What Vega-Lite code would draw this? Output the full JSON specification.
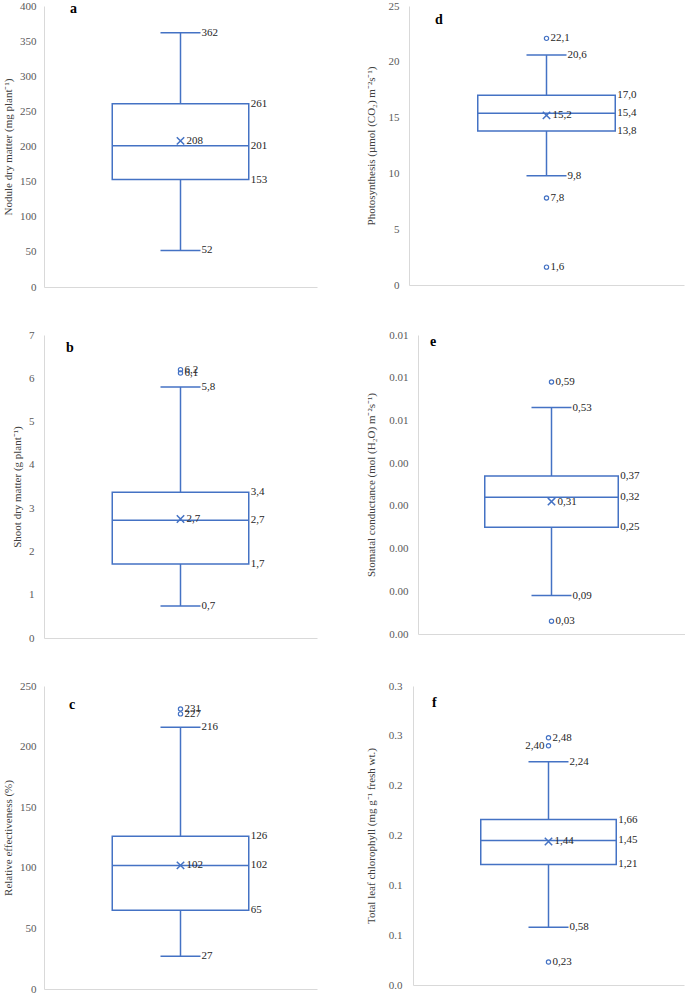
{
"$schema":"https://vega.github.io/schema/vega-lite/v6.json",
"padding":{"left":2,"top":0,"right":0,"bottom":0},
"background":"white",
"datasets":{"stats":[
{"panel":"a","stat":"min","value":52,"label":"52"},
{"panel":"a","stat":"q1","value":153,"label":"153"},
{"panel":"a","stat":"median","value":201,"label":"201"},
{"panel":"a","stat":"q3","value":261,"label":"261"},
{"panel":"a","stat":"max","value":362,"label":"362"},
{"panel":"a","stat":"mean","value":208,"label":"208"},
{"panel":"d","stat":"min","value":9.8,"label":"9,8"},
{"panel":"d","stat":"q1","value":13.8,"label":"13,8"},
{"panel":"d","stat":"median","value":15.4,"label":"15,4"},
{"panel":"d","stat":"q3","value":17.0,"label":"17,0"},
{"panel":"d","stat":"max","value":20.6,"label":"20,6"},
{"panel":"d","stat":"mean","value":15.2,"label":"15,2"},
{"panel":"d","stat":"outlier","value":22.1,"label":"22,1"},
{"panel":"d","stat":"outlier","value":7.8,"label":"7,8"},
{"panel":"d","stat":"outlier","value":1.6,"label":"1,6"},
{"panel":"b","stat":"min","value":0.74,"label":"0,7"},
{"panel":"b","stat":"q1","value":1.71,"label":"1,7"},
{"panel":"b","stat":"median","value":2.72,"label":"2,7"},
{"panel":"b","stat":"q3","value":3.37,"label":"3,4"},
{"panel":"b","stat":"max","value":5.8,"label":"5,8"},
{"panel":"b","stat":"mean","value":2.75,"label":"2,7"},
{"panel":"b","stat":"outlier","value":6.2,"label":"6,2"},
{"panel":"b","stat":"outlier","value":6.12,"label":"6,1"},
{"panel":"e","stat":"min","value":0.09,"label":"0,09"},
{"panel":"e","stat":"q1","value":0.25,"label":"0,25"},
{"panel":"e","stat":"median","value":0.32,"label":"0,32"},
{"panel":"e","stat":"q3","value":0.37,"label":"0,37"},
{"panel":"e","stat":"max","value":0.53,"label":"0,53"},
{"panel":"e","stat":"mean","value":0.31,"label":"0,31"},
{"panel":"e","stat":"outlier","value":0.59,"label":"0,59"},
{"panel":"e","stat":"outlier","value":0.03,"label":"0,03"},
{"panel":"c","stat":"min","value":27,"label":"27"},
{"panel":"c","stat":"q1","value":65,"label":"65"},
{"panel":"c","stat":"median","value":102,"label":"102"},
{"panel":"c","stat":"q3","value":126,"label":"126"},
{"panel":"c","stat":"max","value":216,"label":"216"},
{"panel":"c","stat":"mean","value":102,"label":"102"},
{"panel":"c","stat":"outlier","value":231,"label":"231"},
{"panel":"c","stat":"outlier","value":227,"label":"227"},
{"panel":"f","stat":"min","value":0.58,"label":"0,58"},
{"panel":"f","stat":"q1","value":1.21,"label":"1,21"},
{"panel":"f","stat":"median","value":1.45,"label":"1,45"},
{"panel":"f","stat":"q3","value":1.66,"label":"1,66"},
{"panel":"f","stat":"max","value":2.24,"label":"2,24"},
{"panel":"f","stat":"mean","value":1.44,"label":"1,44"},
{"panel":"f","stat":"outlier","value":2.48,"label":"2,48"},
{"panel":"f","stat":"outlier","value":2.40,"label":"2,40"},
{"panel":"f","stat":"outlier","value":0.23,"label":"0,23"}
]},
"spacing":37,
"vconcat":[
{"spacing":48,"hconcat":[
{"width":273,"height":281,"title":{"text":"a","dx":26,"offset":-16},
"data":{"name":"stats"},"transform":[{"filter":"datum.panel == 'a'"}],
"encoding":{
"x":{"field":"panel","type":"nominal","scale":{"paddingInner":0,"paddingOuter":0.5},"axis":{"title":null,"labels":false,"ticks":false}},
"y":{"field":"value","type":"quantitative","title":"Nodule dry matter (mg plant⁻¹)","scale":{"domain":[0,400],"nice":false},"axis":{"values":[0,50,100,150,200,250,300,350,400]}}},
"layer":[
{"transform":[{"pivot":"stat","value":"value","groupby":["panel"]}],"mark":"rule","encoding":{"y":{"field":"min","type":"quantitative","title":"Nodule dry matter (mg plant⁻¹)","scale":{"domain":[0,400],"nice":false}},"y2":{"field":"max"}}},
{"transform":[{"pivot":"stat","value":"value","groupby":["panel"]}],"mark":{"type":"bar","fill":"white","stroke":"#4472C4","strokeWidth":1.5,"opacity":1},"encoding":{"y":{"field":"q1","type":"quantitative","title":"Nodule dry matter (mg plant⁻¹)","scale":{"domain":[0,400],"nice":false}},"y2":{"field":"q3"}}},
{"transform":[{"filter":"datum.stat == 'median'"}],"mark":{"type":"tick","size":137}},
{"transform":[{"filter":"datum.stat == 'min' || datum.stat == 'max'"}],"mark":{"type":"tick","size":40}},
{"transform":[{"filter":"datum.stat == 'mean'"}],"mark":{"type":"point","shape":"M-1,-1L1,1M-1,1L1,-1","size":55,"strokeWidth":1.5}},
{"transform":[{"filter":"datum.stat == 'q1' || datum.stat == 'median' || datum.stat == 'q3'"}],"mark":{"type":"text","dx":2},"encoding":{"x":{"field":"panel","type":"nominal","bandPosition":1},"text":{"field":"label"}}},
{"transform":[{"filter":"datum.stat == 'min' || datum.stat == 'max'"}],"mark":{"type":"text","dx":21},"encoding":{"text":{"field":"label"}}},
{"transform":[{"filter":"datum.stat == 'mean'"}],"mark":{"type":"text","dx":6},"encoding":{"text":{"field":"label"}}}
]},
{"width":275,"height":279,"title":{"text":"d","dx":26,"offset":-27},
"data":{"name":"stats"},"transform":[{"filter":"datum.panel == 'd'"}],
"encoding":{
"x":{"field":"panel","type":"nominal","scale":{"paddingInner":0,"paddingOuter":0.5},"axis":{"title":null,"labels":false,"ticks":false}},
"y":{"field":"value","type":"quantitative","title":"Photosynthesis (µmol (CO₂) m⁻²s⁻¹)","scale":{"domain":[0,25],"nice":false},"axis":{"values":[0,5,10,15,20,25],"titlePadding":12,"labelPadding":10}}},
"layer":[
{"transform":[{"pivot":"stat","value":"value","groupby":["panel"]}],"mark":"rule","encoding":{"y":{"field":"min","type":"quantitative","title":"Photosynthesis (µmol (CO₂) m⁻²s⁻¹)","scale":{"domain":[0,25],"nice":false}},"y2":{"field":"max"}}},
{"transform":[{"pivot":"stat","value":"value","groupby":["panel"]}],"mark":{"type":"bar","fill":"white","stroke":"#4472C4","strokeWidth":1.5,"opacity":1},"encoding":{"y":{"field":"q1","type":"quantitative","title":"Photosynthesis (µmol (CO₂) m⁻²s⁻¹)","scale":{"domain":[0,25],"nice":false}},"y2":{"field":"q3"}}},
{"transform":[{"filter":"datum.stat == 'median'"}],"mark":{"type":"tick","size":137}},
{"transform":[{"filter":"datum.stat == 'min' || datum.stat == 'max'"}],"mark":{"type":"tick","size":40}},
{"transform":[{"filter":"datum.stat == 'mean'"}],"mark":{"type":"point","shape":"M-1,-1L1,1M-1,1L1,-1","size":55,"strokeWidth":1.5}},
{"transform":[{"filter":"datum.stat == 'outlier'"}],"mark":{"type":"point","shape":"circle","size":18}},
{"transform":[{"filter":"datum.stat == 'q1' || datum.stat == 'median' || datum.stat == 'q3'"}],"mark":{"type":"text","dx":2},"encoding":{"x":{"field":"panel","type":"nominal","bandPosition":1},"text":{"field":"label"}}},
{"transform":[{"filter":"datum.stat == 'min' || datum.stat == 'max'"}],"mark":{"type":"text","dx":21},"encoding":{"text":{"field":"label"}}},
{"transform":[{"filter":"datum.stat == 'mean'"}],"mark":{"type":"text","dx":6},"encoding":{"text":{"field":"label"}}},
{"transform":[{"filter":"datum.stat == 'outlier'"}],"mark":{"type":"text","dx":4},"encoding":{"text":{"field":"label"}}}
]}
]},
{"spacing":48,"hconcat":[
{"width":273,"height":303,"title":{"text":"b","dx":22,"offset":-26},
"data":{"name":"stats"},"transform":[{"filter":"datum.panel == 'b'"}],
"encoding":{
"x":{"field":"panel","type":"nominal","scale":{"paddingInner":0,"paddingOuter":0.5},"axis":{"title":null,"labels":false,"ticks":false}},
"y":{"field":"value","type":"quantitative","title":"Shoot dry matter (g plant⁻¹)","scale":{"domain":[0,7],"nice":false},"axis":{"values":[0,1,2,3,4,5,6,7],"labelPadding":10}}},
"layer":[
{"transform":[{"pivot":"stat","value":"value","groupby":["panel"]}],"mark":"rule","encoding":{"y":{"field":"min","type":"quantitative","title":"Shoot dry matter (g plant⁻¹)","scale":{"domain":[0,7],"nice":false}},"y2":{"field":"max"}}},
{"transform":[{"pivot":"stat","value":"value","groupby":["panel"]}],"mark":{"type":"bar","fill":"white","stroke":"#4472C4","strokeWidth":1.5,"opacity":1},"encoding":{"y":{"field":"q1","type":"quantitative","title":"Shoot dry matter (g plant⁻¹)","scale":{"domain":[0,7],"nice":false}},"y2":{"field":"q3"}}},
{"transform":[{"filter":"datum.stat == 'median'"}],"mark":{"type":"tick","size":137}},
{"transform":[{"filter":"datum.stat == 'min' || datum.stat == 'max'"}],"mark":{"type":"tick","size":40}},
{"transform":[{"filter":"datum.stat == 'mean'"}],"mark":{"type":"point","shape":"M-1,-1L1,1M-1,1L1,-1","size":55,"strokeWidth":1.5}},
{"transform":[{"filter":"datum.stat == 'outlier'"}],"mark":{"type":"point","shape":"circle","size":18}},
{"transform":[{"filter":"datum.stat == 'q1' || datum.stat == 'median' || datum.stat == 'q3'"}],"mark":{"type":"text","dx":2},"encoding":{"x":{"field":"panel","type":"nominal","bandPosition":1},"text":{"field":"label"}}},
{"transform":[{"filter":"datum.stat == 'min' || datum.stat == 'max'"}],"mark":{"type":"text","dx":21},"encoding":{"text":{"field":"label"}}},
{"transform":[{"filter":"datum.stat == 'mean'"}],"mark":{"type":"text","dx":6},"encoding":{"text":{"field":"label"}}},
{"transform":[{"filter":"datum.stat == 'outlier'"}],"mark":{"type":"text","dx":4},"encoding":{"text":{"field":"label"}}}
]},
{"width":267,"height":299,"title":{"text":"e","dx":12,"offset":-20},
"data":{"name":"stats"},"transform":[{"filter":"datum.panel == 'e'"}],
"encoding":{
"x":{"field":"panel","type":"nominal","scale":{"paddingInner":0,"paddingOuter":0.5},"axis":{"title":null,"labels":false,"ticks":false}},
"y":{"field":"value","type":"quantitative","title":"Stomatal conductance (mol (H₂O) m⁻²s⁻¹)","scale":{"domain":[0,0.7],"nice":false},"axis":{"values":[0,0.1,0.2,0.3,0.4,0.5,0.6,0.7],"labelExpr":"format(floor(datum.value + 0.5)/100, '.2f')","titlePadding":12,"labelPadding":10}}},
"layer":[
{"transform":[{"pivot":"stat","value":"value","groupby":["panel"]}],"mark":"rule","encoding":{"y":{"field":"min","type":"quantitative","title":"Stomatal conductance (mol (H₂O) m⁻²s⁻¹)","scale":{"domain":[0,0.7],"nice":false}},"y2":{"field":"max"}}},
{"transform":[{"pivot":"stat","value":"value","groupby":["panel"]}],"mark":{"type":"bar","fill":"white","stroke":"#4472C4","strokeWidth":1.5,"opacity":1},"encoding":{"y":{"field":"q1","type":"quantitative","title":"Stomatal conductance (mol (H₂O) m⁻²s⁻¹)","scale":{"domain":[0,0.7],"nice":false}},"y2":{"field":"q3"}}},
{"transform":[{"filter":"datum.stat == 'median'"}],"mark":{"type":"tick","size":134}},
{"transform":[{"filter":"datum.stat == 'min' || datum.stat == 'max'"}],"mark":{"type":"tick","size":40}},
{"transform":[{"filter":"datum.stat == 'mean'"}],"mark":{"type":"point","shape":"M-1,-1L1,1M-1,1L1,-1","size":55,"strokeWidth":1.5}},
{"transform":[{"filter":"datum.stat == 'outlier'"}],"mark":{"type":"point","shape":"circle","size":18}},
{"transform":[{"filter":"datum.stat == 'q1' || datum.stat == 'median' || datum.stat == 'q3'"}],"mark":{"type":"text","dx":2},"encoding":{"x":{"field":"panel","type":"nominal","bandPosition":1},"text":{"field":"label"}}},
{"transform":[{"filter":"datum.stat == 'min' || datum.stat == 'max'"}],"mark":{"type":"text","dx":21},"encoding":{"text":{"field":"label"}}},
{"transform":[{"filter":"datum.stat == 'mean'"}],"mark":{"type":"text","dx":6},"encoding":{"text":{"field":"label"}}},
{"transform":[{"filter":"datum.stat == 'outlier'"}],"mark":{"type":"text","dx":4},"encoding":{"text":{"field":"label"}}}
]}
]},
{"spacing":48,"hconcat":[
{"width":273,"height":303,"title":{"text":"c","dx":25,"offset":-32},
"data":{"name":"stats"},"transform":[{"filter":"datum.panel == 'c'"}],
"encoding":{
"x":{"field":"panel","type":"nominal","scale":{"paddingInner":0,"paddingOuter":0.5},"axis":{"title":null,"labels":false,"ticks":false}},
"y":{"field":"value","type":"quantitative","title":"Relative effectiveness (%)","scale":{"domain":[0,250],"nice":false},"axis":{"values":[0,50,100,150,200,250]}}},
"layer":[
{"transform":[{"pivot":"stat","value":"value","groupby":["panel"]}],"mark":"rule","encoding":{"y":{"field":"min","type":"quantitative","title":"Relative effectiveness (%)","scale":{"domain":[0,250],"nice":false}},"y2":{"field":"max"}}},
{"transform":[{"pivot":"stat","value":"value","groupby":["panel"]}],"mark":{"type":"bar","fill":"white","stroke":"#4472C4","strokeWidth":1.5,"opacity":1},"encoding":{"y":{"field":"q1","type":"quantitative","title":"Relative effectiveness (%)","scale":{"domain":[0,250],"nice":false}},"y2":{"field":"q3"}}},
{"transform":[{"filter":"datum.stat == 'median'"}],"mark":{"type":"tick","size":137}},
{"transform":[{"filter":"datum.stat == 'min' || datum.stat == 'max'"}],"mark":{"type":"tick","size":40}},
{"transform":[{"filter":"datum.stat == 'mean'"}],"mark":{"type":"point","shape":"M-1,-1L1,1M-1,1L1,-1","size":55,"strokeWidth":1.5}},
{"transform":[{"filter":"datum.stat == 'outlier'"}],"mark":{"type":"point","shape":"circle","size":18}},
{"transform":[{"filter":"datum.stat == 'q1' || datum.stat == 'median' || datum.stat == 'q3'"}],"mark":{"type":"text","dx":2},"encoding":{"x":{"field":"panel","type":"nominal","bandPosition":1},"text":{"field":"label"}}},
{"transform":[{"filter":"datum.stat == 'min' || datum.stat == 'max'"}],"mark":{"type":"text","dx":21},"encoding":{"text":{"field":"label"}}},
{"transform":[{"filter":"datum.stat == 'mean'"}],"mark":{"type":"text","dx":6},"encoding":{"text":{"field":"label"}}},
{"transform":[{"filter":"datum.stat == 'outlier'"}],"mark":{"type":"text","dx":4},"encoding":{"text":{"field":"label"}}}
]},
{"width":271,"height":299,"title":{"text":"f","dx":19,"offset":-30},
"data":{"name":"stats"},"transform":[{"filter":"datum.panel == 'f'"}],
"encoding":{
"x":{"field":"panel","type":"nominal","scale":{"paddingInner":0,"paddingOuter":0.5},"axis":{"title":null,"labels":false,"ticks":false}},
"y":{"field":"value","type":"quantitative","title":"Total leaf chlorophyll (mg g⁻¹ fresh wt.)","scale":{"domain":[0,3],"nice":false},"axis":{"values":[0,0.5,1,1.5,2,2.5,3],"labelExpr":"format(floor(datum.value + 0.5)/10, '.1f')","titlePadding":12,"labelPadding":11}}},
"layer":[
{"transform":[{"pivot":"stat","value":"value","groupby":["panel"]}],"mark":"rule","encoding":{"y":{"field":"min","type":"quantitative","title":"Total leaf chlorophyll (mg g⁻¹ fresh wt.)","scale":{"domain":[0,3],"nice":false}},"y2":{"field":"max"}}},
{"transform":[{"pivot":"stat","value":"value","groupby":["panel"]}],"mark":{"type":"bar","fill":"white","stroke":"#4472C4","strokeWidth":1.5,"opacity":1},"encoding":{"y":{"field":"q1","type":"quantitative","title":"Total leaf chlorophyll (mg g⁻¹ fresh wt.)","scale":{"domain":[0,3],"nice":false}},"y2":{"field":"q3"}}},
{"transform":[{"filter":"datum.stat == 'median'"}],"mark":{"type":"tick","size":135}},
{"transform":[{"filter":"datum.stat == 'min' || datum.stat == 'max'"}],"mark":{"type":"tick","size":40}},
{"transform":[{"filter":"datum.stat == 'mean'"}],"mark":{"type":"point","shape":"M-1,-1L1,1M-1,1L1,-1","size":55,"strokeWidth":1.5}},
{"transform":[{"filter":"datum.stat == 'outlier'"}],"mark":{"type":"point","shape":"circle","size":18}},
{"transform":[{"filter":"datum.stat == 'q1' || datum.stat == 'median' || datum.stat == 'q3'"}],"mark":{"type":"text","dx":2},"encoding":{"x":{"field":"panel","type":"nominal","bandPosition":1},"text":{"field":"label"}}},
{"transform":[{"filter":"datum.stat == 'min' || datum.stat == 'max'"}],"mark":{"type":"text","dx":21},"encoding":{"text":{"field":"label"}}},
{"transform":[{"filter":"datum.stat == 'mean'"}],"mark":{"type":"text","dx":6},"encoding":{"text":{"field":"label"}}},
{"transform":[{"filter":"datum.stat == 'outlier' && datum.value != 2.40"}],"mark":{"type":"text","dx":4},"encoding":{"text":{"field":"label"}}},
{"transform":[{"filter":"datum.stat == 'outlier' && datum.value == 2.40"}],"mark":{"type":"text","dx":-4,"align":"right"},"encoding":{"text":{"field":"label"}}}
]}
]}
],
"config":{
"view":{"stroke":null},
"axis":{"grid":false,"ticks":false,"domainColor":"#d9d9d9","domainWidth":1,"labelFont":"Liberation Serif","labelFontSize":11,"labelColor":"#595959","labelPadding":8,"titleFont":"Liberation Serif","titleFontSize":11,"titleFontWeight":"normal","titleColor":"#404040","titlePadding":6},
"rule":{"color":"#4472C4","strokeWidth":1.5,"opacity":1},
"tick":{"color":"#4472C4","thickness":1.5,"opacity":1},
"point":{"color":"#4472C4","filled":false,"strokeWidth":1.2,"opacity":1},
"text":{"font":"Liberation Serif","fontSize":11,"color":"#262626","align":"left","baseline":"middle"},
"title":{"font":"Liberation Serif","fontSize":14,"fontWeight":"bold","anchor":"start","frame":"group","baseline":"middle","color":"#000000"}
}
}
